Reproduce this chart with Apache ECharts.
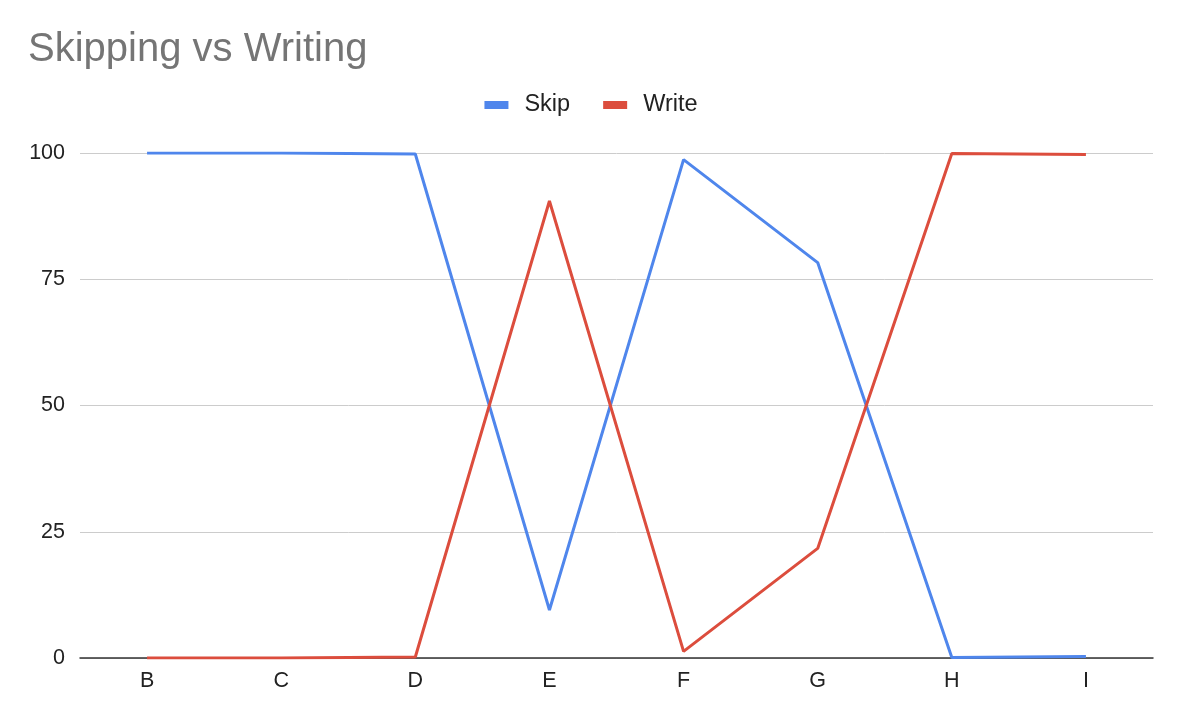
<!DOCTYPE html>
<html>
<head>
<meta charset="utf-8">
<script src="https://cdn.jsdelivr.net/npm/echarts@6/dist/echarts.min.js"></script>
<style>
html,body{margin:0;padding:0;background:#fff;}
#chart{width:1182px;height:710px;}
</style>
</head>
<body>
<div id="chart"></div>
<script>
const categories = ['B','C','D','E','F','G','H','I'];
const skipValues = [100, 100, 99.8, 9.5, 98.7, 78.3, 0.1, 0.3];
const writeValues = [0, 0, 0.2, 90.5, 1.3, 21.7, 99.9, 99.7];
const yTicks = [0, 25, 50, 75, 100];

const FONT = '"Liberation Sans", Arial, sans-serif';
const chart = echarts.init(document.getElementById('chart'), null, {renderer: 'canvas'});
chart.setOption({
  animation: false,
  backgroundColor: '#ffffff',
  textStyle: {fontFamily: FONT},
  title: {
    text: 'Skipping vs Writing',
    left: 23, top: 25,
    textStyle: {fontSize: 40, fontWeight: 'normal', color: '#757575', fontFamily: FONT}
  },
  legend: {
    top: 88, left: 'center',
    itemWidth: 24, itemHeight: 8, itemGap: 33,
    icon: 'rect',
    textStyle: {fontSize: 23.5, color: '#222', fontFamily: FONT, padding: [0,0,0,11]},
    data: ['Skip', 'Write']
  },
  grid: {left: 80, right: 29, top: 153, bottom: 52, containLabel: false},
  xAxis: {
    type: 'category',
    data: categories,
    boundaryGap: true,
    axisLine: {lineStyle: {color: '#333', width: 1.5}},
    axisTick: {show: false},
    axisLabel: {fontSize: 21.5, color: '#222', margin: 12, fontFamily: FONT},
    splitLine: {show: false}
  },
  yAxis: {
    type: 'value',
    min: yTicks[0], max: yTicks[yTicks.length - 1], interval: 25,
    axisLine: {show: false},
    axisTick: {show: false},
    axisLabel: {fontSize: 21.5, color: '#222', margin: 15, fontFamily: FONT},
    splitLine: {lineStyle: {color: '#cccccc', width: 1}}
  },
  series: [
    {
      name: 'Skip', type: 'line', data: skipValues,
      showSymbol: false, symbol: 'none',
      lineStyle: {color: '#4f86ec', width: 3},
      itemStyle: {color: '#4f86ec'}
    },
    {
      name: 'Write', type: 'line', data: writeValues,
      showSymbol: false, symbol: 'none',
      lineStyle: {color: '#dc4d3d', width: 3},
      itemStyle: {color: '#dc4d3d'}
    }
  ]
});
</script>
</body>
</html>
